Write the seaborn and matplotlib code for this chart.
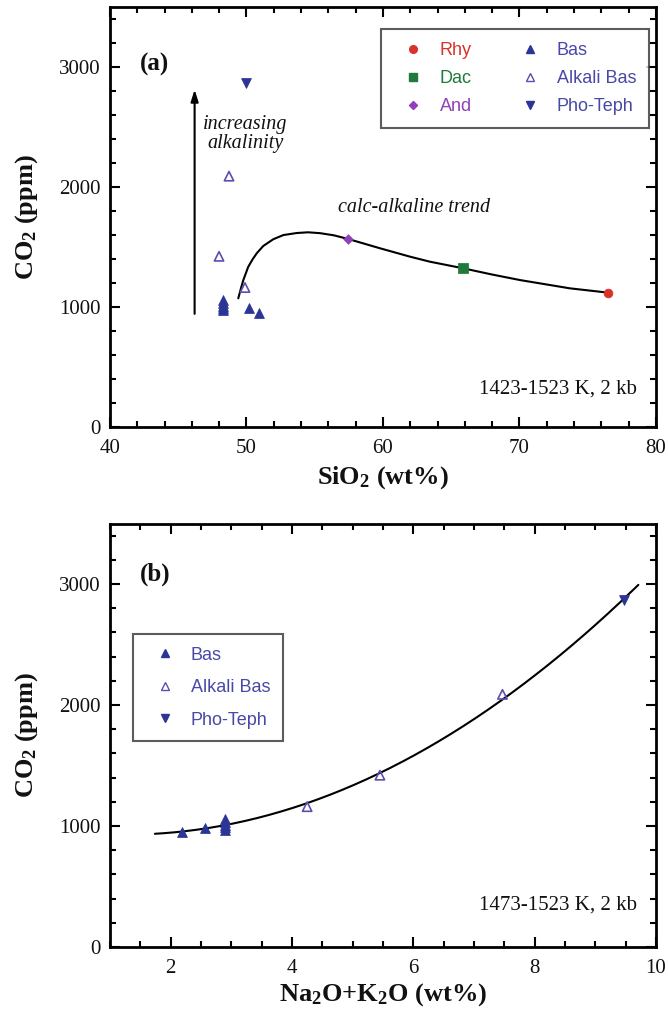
import numpy as np
import pandas as pd
import matplotlib
matplotlib.use("Agg")
import matplotlib.pyplot as plt
from matplotlib.lines import Line2D
from matplotlib.ticker import MultipleLocator
import seaborn as sns

# ---------------- data ----------------
# Panel (a): SiO2 (wt%) vs CO2 (ppm)
rhy_sio2 = [76.5];  rhy_co2 = [1117]
dac_sio2 = [65.88]; dac_co2 = [1320]
and_sio2 = [57.46]; and_co2 = [1564]
bas_sio2 = [48.25, 48.25, 48.25, 48.25, 48.25, 50.18, 50.94]
bas_co2 = [970, 990, 1010, 1030, 1055, 987, 950]
alk_sio2 = [49.89, 47.99, 48.72]
alk_co2 = [1160, 1420, 2088]
pho_sio2 = [49.94]; pho_co2 = [2866]

# calc-alkaline trend line
trend_sio2 = [49.40, 49.60, 49.77, 50.13, 50.45, 50.75, 51.23, 51.96, 52.70,
              53.68, 54.50, 55.38, 56.40, 57.46, 59.78, 61.98, 63.44, 65.88,
              68.00, 70.04, 73.70, 76.50]
trend_co2 = [1070, 1155, 1222, 1333, 1395, 1445, 1506, 1562, 1597,
             1614, 1620, 1613, 1595, 1564, 1487, 1417, 1375, 1320,
             1268, 1222, 1153, 1117]

# Panel (b): Na2O+K2O (wt%) vs CO2 (ppm)
bas_alk = [2.9, 2.9, 2.9, 2.9, 2.9, 2.56, 2.18]
alk_alk = [4.25, 5.45, 7.47]
pho_alk = [9.48]
fit_range = [1.74, 9.71]

# ---------------- style ----------------
sns.set_style("ticks")
plt.rcParams["font.family"] = ["Liberation Serif", "DejaVu Serif"]
plt.rcParams["mathtext.fontset"] = "custom"
plt.rcParams["mathtext.rm"] = "Liberation Serif"
plt.rcParams["mathtext.bf"] = "Liberation Serif:bold"
plt.rcParams["mathtext.it"] = "Liberation Serif:italic"
plt.rcParams["text.color"] = "#111111"
plt.rcParams["axes.labelcolor"] = "#111111"
plt.rcParams["xtick.labelcolor"] = "#111111"
plt.rcParams["ytick.labelcolor"] = "#111111"

C_RHY = "#d8322c"
C_DAC = "#1f7a3c"
C_AND = "#9040b8"
C_BAS = "#2a3595"
C_ALK = "#5a4fb0"
C_TXT = "#4848a8"

fig = plt.figure(figsize=(6.69, 10.15), dpi=100)
axa = fig.add_axes([0.1644, 0.5796, 0.8161, 0.4138])
axb = fig.add_axes([0.1644, 0.0670, 0.8161, 0.4172])

sans = ["Liberation Sans", "DejaVu Sans"]

def style_axes(ax, xmaj, xmin):
    ax.set_ylim(0, 3500)
    ax.yaxis.set_major_locator(MultipleLocator(1000))
    ax.yaxis.set_minor_locator(MultipleLocator(200))
    ax.xaxis.set_major_locator(MultipleLocator(xmaj))
    ax.xaxis.set_minor_locator(MultipleLocator(xmin))
    ax.tick_params(which="both", direction="in", top=True, right=True,
                   width=1.5, color="black")
    ax.tick_params(which="major", length=7)
    ax.tick_params(which="minor", length=4)
    ax.tick_params(axis="x", which="major", labelsize=15, pad=9)
    ax.tick_params(axis="y", which="major", labelsize=15, pad=7)
    for s in ax.spines.values():
        s.set_linewidth(2)
        s.set_color("black")
    ax.set_ylabel(r"CO$_\mathbf{2}$ (ppm)", fontsize=19, fontweight="bold")
    ax.yaxis.label.set_va("center")
    ax.yaxis.set_label_coords(-0.152, 0.5)

# ---------------- panel (a) ----------------
sns.lineplot(x=trend_sio2, y=trend_co2, sort=False, color="black", lw=1.5, ax=axa)
sns.scatterplot(x=rhy_sio2, y=rhy_co2, marker="o", s=40, color=C_RHY, edgecolor=C_RHY, ax=axa, zorder=3)
sns.scatterplot(x=dac_sio2, y=dac_co2, marker="s", s=45, color=C_DAC, edgecolor=C_DAC, ax=axa, zorder=3)
sns.scatterplot(x=and_sio2, y=and_co2, marker="D", s=25, color=C_AND, edgecolor=C_AND, ax=axa, zorder=3)
sns.scatterplot(x=bas_sio2, y=bas_co2, marker="^", s=50, color=C_BAS, edgecolor=C_BAS, ax=axa, zorder=3)
sns.scatterplot(x=alk_sio2, y=alk_co2, marker="^", s=45, facecolor="none", edgecolor=C_ALK, linewidth=1.2, ax=axa, zorder=3)
sns.scatterplot(x=pho_sio2, y=pho_co2, marker="v", s=50, color=C_BAS, edgecolor=C_BAS, ax=axa, zorder=3)

axa.set_xlim(40, 80)
style_axes(axa, 10, 2)
axa.set_xlabel(r"SiO$_\mathbf{2}$ (wt%)", fontsize=19, fontweight="bold")
axa.xaxis.label.set_va("center")
axa.xaxis.set_label_coords(0.5, -0.122)

axa.annotate("", xy=(46.2, 2833), xytext=(46.2, 917),
             arrowprops=dict(arrowstyle="-|>,head_length=0.7,head_width=0.22",
                             color="black", lw=1.5))
axa.text(49.9, 2440, "increasing\nalkalinity", fontsize=14.5, style="italic",
         ha="center", va="center", linespacing=1.05)
axa.text(62.3, 1830, "calc-alkaline trend", fontsize=14.5, style="italic",
         ha="center", va="center")
axa.text(0.965, 0.09, "1423-1523 K, 2 kb", fontsize=15, ha="right", va="center",
         transform=axa.transAxes)
axa.text(0.082, 0.862, "(a)", fontsize=18, fontweight="bold", ha="center",
         va="center", transform=axa.transAxes)

def mk(marker, color, fill=True, ms=5.5):
    return Line2D([], [], ls="none", marker=marker, markersize=ms,
                  markerfacecolor=color if fill else "none",
                  markeredgecolor=color, markeredgewidth=1.0)

h_a = [mk("o", C_RHY), mk("s", C_DAC), mk("D", C_AND, ms=4.5),
       mk("^", C_BAS), mk("^", C_ALK, fill=False), mk("v", C_BAS)]
l_a = ["Rhy", "Dac", "And", "Bas", "Alkali Bas", "Pho-Teph"]
c_a = [C_RHY, C_DAC, C_AND, C_TXT, C_TXT, C_TXT]
leg = axa.legend(h_a, l_a, ncol=2, loc="upper right", bbox_to_anchor=(0.987, 0.946),
                 borderaxespad=0, frameon=True, fancybox=False, edgecolor="#333333",
                 prop={"family": sans, "size": 13}, handletextpad=0.45,
                 columnspacing=2.15, labelspacing=0.62, borderpad=0.7,
                 handlelength=2.1)
leg.get_frame().set_linewidth(1.5)
for t, c in zip(leg.get_texts(), c_a):
    t.set_color(c)

# ---------------- panel (b) ----------------
fit_x = np.array(bas_alk + alk_alk + pho_alk)
fit_y = np.array(bas_co2 + alk_co2 + pho_co2)
coef = np.polyfit(fit_x, fit_y, 2)
xx = np.linspace(fit_range[0], fit_range[1], 200)
sns.lineplot(x=xx, y=np.polyval(coef, xx), color="black", lw=1.5, ax=axb)
sns.scatterplot(x=bas_alk, y=bas_co2, marker="^", s=50, color=C_BAS, edgecolor=C_BAS, ax=axb, zorder=3)
sns.scatterplot(x=alk_alk, y=alk_co2, marker="^", s=45, facecolor="none", edgecolor=C_ALK, linewidth=1.2, ax=axb, zorder=3)
sns.scatterplot(x=pho_alk, y=pho_co2, marker="v", s=50, color=C_BAS, edgecolor=C_BAS, ax=axb, zorder=3)

axb.set_xlim(1, 10)
style_axes(axb, 2, 0.5)
axb.set_xlabel(r"Na$_\mathbf{2}$O+K$_\mathbf{2}$O (wt%)", fontsize=19, fontweight="bold")
axb.xaxis.label.set_va("center")
axb.xaxis.set_label_coords(0.5, -0.113)
axb.text(0.965, 0.10, "1473-1523 K, 2 kb", fontsize=15, ha="right", va="center",
         transform=axb.transAxes)
axb.text(0.082, 0.88, "(b)", fontsize=18, fontweight="bold", ha="center",
         va="center", transform=axb.transAxes)

h_b = [mk("^", C_BAS), mk("^", C_ALK, fill=False), mk("v", C_BAS)]
l_b = ["Bas", "Alkali Bas", "Pho-Teph"]
legb = axb.legend(h_b, l_b, loc="upper left", bbox_to_anchor=(0.042, 0.739),
                  borderaxespad=0, frameon=True, fancybox=False, edgecolor="#333333",
                  prop={"family": sans, "size": 13}, handletextpad=0.4,
                  labelspacing=0.86, borderpad=0.7, handlelength=2.1)
legb.get_frame().set_linewidth(1.5)
for t in legb.get_texts():
    t.set_color(C_TXT)

fig.savefig("out.png", dpi=100)
